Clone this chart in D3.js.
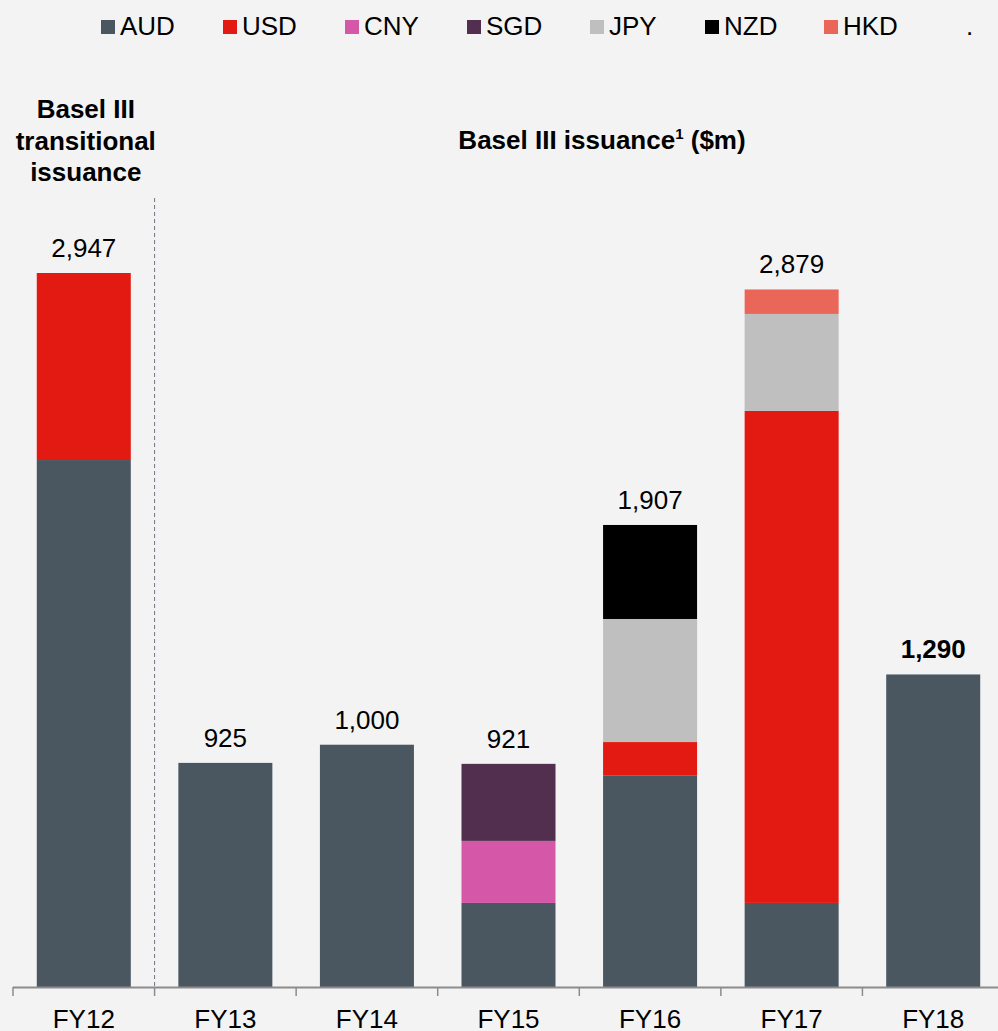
<!DOCTYPE html>
<html>
<head>
<meta charset="utf-8">
<script src="https://cdn.jsdelivr.net/npm/d3@7"></script>
<style>
  html, body { margin: 0; padding: 0; background: #f3f3f3; }
  svg { display: block; font-family: "Liberation Sans", Arial, sans-serif; }
</style>
</head>
<body>
<svg id="chart" width="998" height="1031"></svg>
<script>
// Issuance by currency ($m)
const years = ["FY12", "FY13", "FY14", "FY15", "FY16", "FY17", "FY18"];
const currencies = ["AUD", "USD", "CNY", "SGD", "JPY", "NZD", "HKD"];
const AUD = [2175, 925, 1000, 347, 872, 347, 1290];
const USD = [772, 0, 0, 0, 139, 2031, 0];
const CNY = [0, 0, 0, 256, 0, 0, 0];
const SGD = [0, 0, 0, 318, 0, 0, 0];
const JPY = [0, 0, 0, 0, 508, 400, 0];
const NZD = [0, 0, 0, 0, 388, 0, 0];
const HKD = [0, 0, 0, 0, 0, 101, 0];
const totalLabels = ["2,947", "925", "1,000", "921", "1,907", "2,879", "1,290"];

const colors = {
  AUD: "#4a5761", USD: "#e31a12", CNY: "#d457a8", SGD: "#532f4f",
  JPY: "#bfbfbf", NZD: "#000000", HKD: "#ea6659"
};
const seriesValues = { AUD, USD, CNY, SGD, JPY, NZD, HKD };

const rows = years.map((fy, i) => {
  const r = { fy };
  currencies.forEach(c => r[c] = seriesValues[c][i]);
  return r;
});
const stacked = d3.stack().keys(currencies)(rows);
const totals = rows.map(r => d3.sum(currencies, c => r[c]));

const svg = d3.select("#chart");
const baseY = 987;

const x = d3.scaleBand().domain(years).range([13, 1004]).paddingInner(0.336).paddingOuter(0.168);
const y = d3.scaleLinear().domain([0, 2947]).range([baseY, 273]);

// stacked bars
svg.append("g").selectAll("g").data(stacked).join("g")
  .attr("fill", d => colors[d.key])
  .selectAll("rect").data(d => d).join("rect")
  .attr("x", d => x(d.data.fy))
  .attr("width", x.bandwidth())
  .attr("y", d => y(d[1]))
  .attr("height", d => y(d[0]) - y(d[1]));

// total labels above bars
svg.append("g").selectAll("text").data(years).join("text")
  .attr("x", d => x(d) + x.bandwidth() / 2)
  .attr("y", (d, i) => y(totals[i]) - 16)
  .attr("text-anchor", "middle")
  .attr("font-size", 26)
  .attr("font-weight", (d, i) => d === "FY18" ? "bold" : "normal")
  .attr("fill", "#000")
  .text((d, i) => totalLabels[i]);

// x axis
const gap = x.step() - x.bandwidth();
const axisG = svg.append("g");
axisG.append("line")
  .attr("x1", 13).attr("x2", 998)
  .attr("y1", baseY + 0.5).attr("y2", baseY + 0.5)
  .attr("stroke", "#8c8c8c").attr("stroke-width", 2);
axisG.selectAll("line.tick").data(years).join("line")
  .attr("class", "tick")
  .attr("x1", d => x(d) - gap / 2)
  .attr("x2", d => x(d) - gap / 2)
  .attr("y1", baseY).attr("y2", baseY + 9)
  .attr("stroke", "#8c8c8c").attr("stroke-width", 1.5);
axisG.selectAll("text").data(years).join("text")
  .attr("x", d => x(d) + x.bandwidth() / 2)
  .attr("y", 1028)
  .attr("text-anchor", "middle")
  .attr("font-size", 26)
  .attr("fill", "#000")
  .text(d => d);

// divider between transitional and Basel III issuance
const divX = x("FY13") - gap / 2;
svg.append("line")
  .attr("x1", divX).attr("x2", divX)
  .attr("y1", 198).attr("y2", baseY)
  .attr("stroke", "#6f7780").attr("stroke-width", 1)
  .attr("stroke-dasharray", "4,3");

// section headings
const leftHead = svg.append("text")
  .attr("text-anchor", "middle").attr("font-size", 26).attr("font-weight", "bold").attr("fill", "#000");
["Basel III", "transitional", "issuance"].forEach((t, i) => {
  leftHead.append("tspan").attr("x", x("FY12") + x.bandwidth() / 2 + 2).attr("y", 118 + i * 31.5).text(t);
});
const rightHead = svg.append("text")
  .attr("x", 602).attr("y", 149)
  .attr("text-anchor", "middle").attr("font-size", 26).attr("font-weight", "bold").attr("fill", "#000");
rightHead.append("tspan").text("Basel III issuance");
rightHead.append("tspan").attr("font-size", 15).attr("dy", -10).text("1");
rightHead.append("tspan").attr("dy", 10).text(" ($m)");

// legend
const legendX = [101, 223, 345, 467, 590, 705, 824];
const legend = svg.append("g").selectAll("g").data(currencies).join("g")
  .attr("transform", (d, i) => `translate(${legendX[i]},0)`);
legend.append("rect")
  .attr("x", 0).attr("y", 20).attr("width", 14).attr("height", 14)
  .attr("fill", d => colors[d]);
legend.append("text")
  .attr("x", 19).attr("y", 35)
  .attr("font-size", 26).attr("fill", "#000")
  .text(d => d);
svg.append("text").attr("x", 966).attr("y", 35).attr("font-size", 26).attr("fill", "#000").text(".");
</script>
</body>
</html>
